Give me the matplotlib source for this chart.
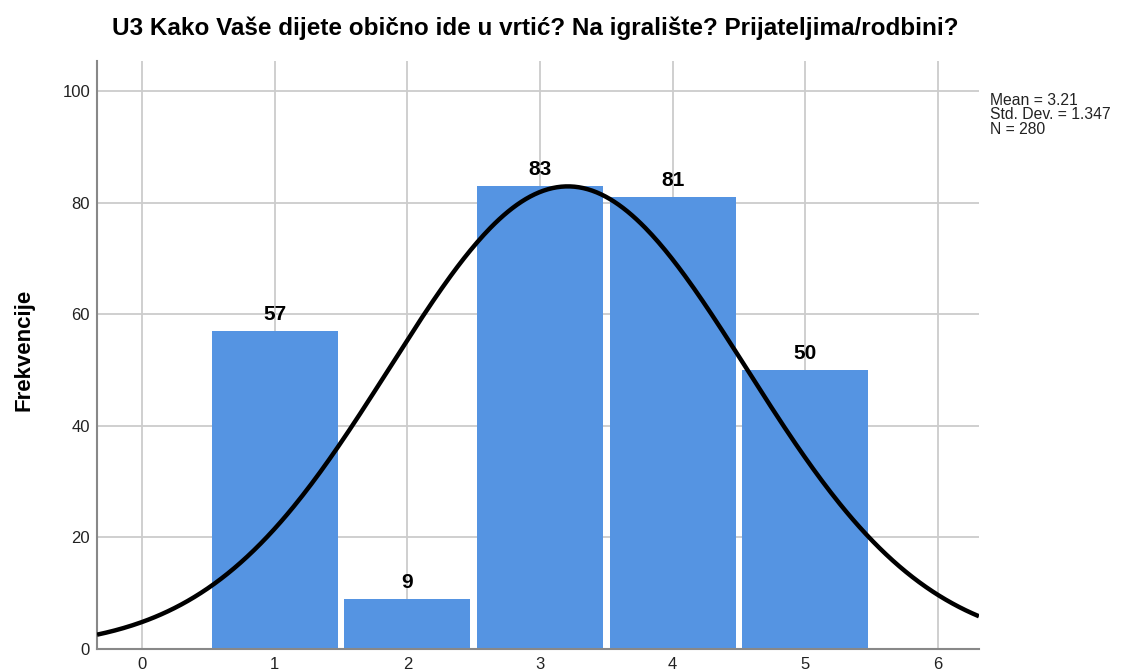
import numpy as np
import matplotlib
matplotlib.use("Agg")
import matplotlib.pyplot as plt

plt.rcParams['font.family'] = ['Liberation Sans', 'DejaVu Sans']

categories = [1, 2, 3, 4, 5]
counts = [57, 9, 83, 81, 50]
mean_val = 3.21
std_val = 1.347
n_val = 280
xticks = [0, 1, 2, 3, 4, 5, 6]
yticks = [0, 20, 40, 60, 80, 100]
title = "U3 Kako Vaše dijete obično ide u vrtić? Na igralište? Prijateljima/rodbini?"

fig = plt.figure(figsize=(11.22, 6.72), dpi=100)
ax = fig.add_axes([0.0865, 0.0342, 0.7860, 0.8750])

ax.bar(categories, counts, width=0.95, color="#5594e2", edgecolor="none", zorder=2)

xs = np.linspace(-0.34, 6.31, 400)
pdf = n_val * 1.0 / (std_val * np.sqrt(2 * np.pi)) * np.exp(-0.5 * ((xs - mean_val) / std_val) ** 2)
ax.plot(xs, pdf, color="black", linewidth=3.2, zorder=4, solid_capstyle='butt')

for c, v in zip(categories, counts):
    ax.text(c, v + 1.3, str(v), ha="center", va="bottom", fontsize=15, fontweight="bold", zorder=5)

ax.set_xlim(-0.34, 6.31)
ax.set_ylim(0, 105.4)
ax.set_xticks(xticks)
ax.set_yticks(yticks)
ax.grid(True, color="#cccccc", linewidth=1.3, zorder=0)
ax.set_axisbelow(True)
for s in ["top", "right"]:
    ax.spines[s].set_visible(False)
for s in ["left", "bottom"]:
    ax.spines[s].set_color("#888888")
    ax.spines[s].set_linewidth(1.5)
ax.tick_params(axis="both", length=0, labelsize=12, colors="#222222", pad=5)
ax.tick_params(axis="x", pad=6)

ax.set_ylabel("Frekvencije", fontsize=16, fontweight="bold")
ax.yaxis.set_label_coords(-0.071, 0.508)
fig.text(0.477, 0.958, title, ha="center", va="center", fontsize=17.5, fontweight="bold")

fig.text(0.882, 0.862, "Mean = 3.21\nStd. Dev. = 1.347\nN = 280", ha="left", va="top",
         fontsize=11.3, linespacing=0.95, color="#222222")

fig.savefig("out.png", dpi=100)
